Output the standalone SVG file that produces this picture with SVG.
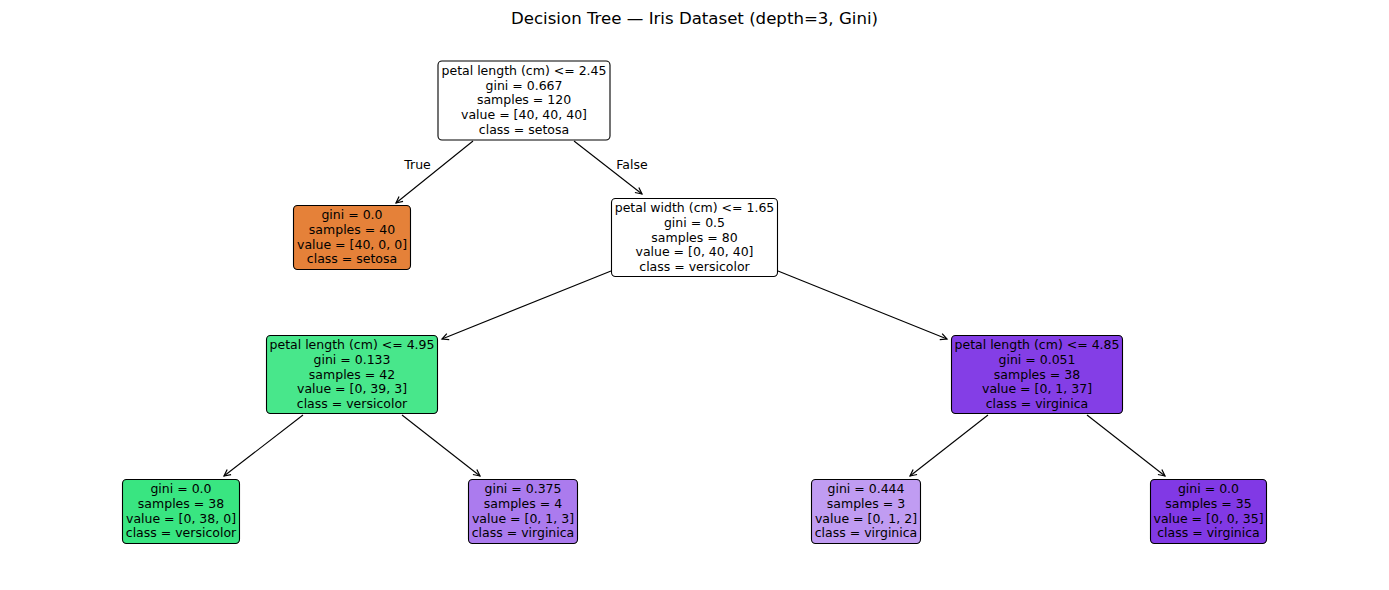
<svg xmlns="http://www.w3.org/2000/svg" width="1389" height="590" viewBox="0 0 1389 590">
<style>
  .box { stroke: #000; stroke-width: 1.1; }
  .t { font-family: "DejaVu Sans", sans-serif; font-size: 12.5px; text-anchor: middle; fill: #000; }
  .title { font-family: "DejaVu Sans", sans-serif; font-size: 16.6px; text-anchor: middle; fill: #000; }
  .edge { stroke: #000; stroke-width: 1.1; fill: none; marker-end: url(#arr); }
</style>
<defs>
  <marker id="arr" markerWidth="10" markerHeight="10" refX="8" refY="5" orient="auto" markerUnits="userSpaceOnUse">
    <path d="M1.5,1.8 L8,5 L1.5,8.2" fill="none" stroke="#000" stroke-width="1.2"/>
  </marker>
</defs>
<rect width="1389" height="590" fill="#fff"/>
<text class="title" x="694.5" y="24">Decision Tree — Iris Dataset (depth=3, Gini)</text>

<g id="edges">
  <line class="edge" x1="473" y1="141" x2="396" y2="203"/>
  <line class="edge" x1="574" y1="141" x2="642" y2="194"/>
  <line class="edge" x1="611" y1="271" x2="442" y2="339"/>
  <line class="edge" x1="778" y1="271" x2="947" y2="339"/>
  <line class="edge" x1="303" y1="415" x2="224" y2="476"/>
  <line class="edge" x1="402" y1="415" x2="480" y2="476"/>
  <line class="edge" x1="988" y1="415" x2="910" y2="476"/>
  <line class="edge" x1="1087" y1="415" x2="1165" y2="476"/>
  <text class="t" x="417.5" y="169" font-size="11.5">True</text>
  <text class="t" x="632" y="169" font-size="11.5">False</text>
</g>

<g id="n0">
  <rect class="box" x="438" y="61" width="172" height="79" rx="4" fill="#ffffff"/>
  <text class="t" x="524" y="75">petal length (cm) &lt;= 2.45</text>
  <text class="t" x="524" y="89.7">gini = 0.667</text>
  <text class="t" x="524" y="104.4">samples = 120</text>
  <text class="t" x="524" y="119.1">value = [40, 40, 40]</text>
  <text class="t" x="524" y="133.8">class = setosa</text>
</g>

<g id="n1">
  <rect class="box" x="293.5" y="205.5" width="117" height="64" rx="4" fill="#e58139"/>
  <text class="t" x="352" y="219.3">gini = 0.0</text>
  <text class="t" x="352" y="234">samples = 40</text>
  <text class="t" x="352" y="248.7">value = [40, 0, 0]</text>
  <text class="t" x="352" y="263.4">class = setosa</text>
</g>

<g id="n2">
  <rect class="box" x="611.5" y="198.5" width="166" height="78" rx="4" fill="#ffffff"/>
  <text class="t" x="694.5" y="212.3">petal width (cm) &lt;= 1.65</text>
  <text class="t" x="694.5" y="227">gini = 0.5</text>
  <text class="t" x="694.5" y="241.7">samples = 80</text>
  <text class="t" x="694.5" y="256.4">value = [0, 40, 40]</text>
  <text class="t" x="694.5" y="271.1">class = versicolor</text>
</g>

<g id="n3">
  <rect class="box" x="266.5" y="335.5" width="171" height="78" rx="4" fill="#48e78b"/>
  <text class="t" x="352" y="349.3">petal length (cm) &lt;= 4.95</text>
  <text class="t" x="352" y="364">gini = 0.133</text>
  <text class="t" x="352" y="378.7">samples = 42</text>
  <text class="t" x="352" y="393.4">value = [0, 39, 3]</text>
  <text class="t" x="352" y="408.1">class = versicolor</text>
</g>

<g id="n4">
  <rect class="box" x="951.5" y="335.5" width="171" height="78" rx="4" fill="#843ee6"/>
  <text class="t" x="1037" y="349.3">petal length (cm) &lt;= 4.85</text>
  <text class="t" x="1037" y="364">gini = 0.051</text>
  <text class="t" x="1037" y="378.7">samples = 38</text>
  <text class="t" x="1037" y="393.4">value = [0, 1, 37]</text>
  <text class="t" x="1037" y="408.1">class = virginica</text>
</g>

<g id="n5">
  <rect class="box" x="122.5" y="479.5" width="117" height="64" rx="4" fill="#39e581"/>
  <text class="t" x="181" y="493.3">gini = 0.0</text>
  <text class="t" x="181" y="508">samples = 38</text>
  <text class="t" x="181" y="522.7">value = [0, 38, 0]</text>
  <text class="t" x="181" y="537.4">class = versicolor</text>
</g>

<g id="n6">
  <rect class="box" x="468.5" y="479.5" width="109" height="64" rx="4" fill="#ab7bee"/>
  <text class="t" x="523" y="493.3">gini = 0.375</text>
  <text class="t" x="523" y="508">samples = 4</text>
  <text class="t" x="523" y="522.7">value = [0, 1, 3]</text>
  <text class="t" x="523" y="537.4">class = virginica</text>
</g>

<g id="n7">
  <rect class="box" x="811.5" y="479.5" width="109" height="64" rx="4" fill="#c09cf2"/>
  <text class="t" x="866" y="493.3">gini = 0.444</text>
  <text class="t" x="866" y="508">samples = 3</text>
  <text class="t" x="866" y="522.7">value = [0, 1, 2]</text>
  <text class="t" x="866" y="537.4">class = virginica</text>
</g>

<g id="n8">
  <rect class="box" x="1150.5" y="479.5" width="116" height="64" rx="4" fill="#8139e5"/>
  <text class="t" x="1208.5" y="493.3">gini = 0.0</text>
  <text class="t" x="1208.5" y="508">samples = 35</text>
  <text class="t" x="1208.5" y="522.7">value = [0, 0, 35]</text>
  <text class="t" x="1208.5" y="537.4">class = virginica</text>
</g>
</svg>
